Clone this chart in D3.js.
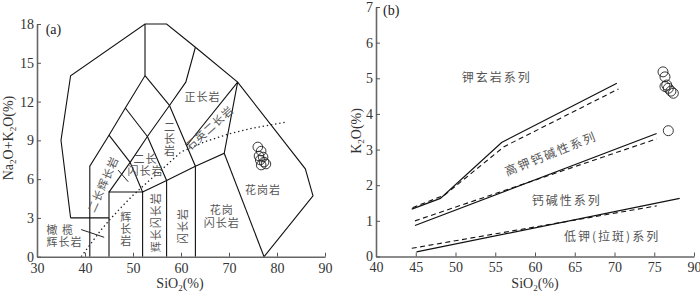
<!DOCTYPE html>
<html>
<head>
<meta charset="utf-8">
<script src="https://cdn.jsdelivr.net/npm/d3@7"></script>
<style>
body { margin: 0; background: #fff; }
.cn { font-family: "Noto Sans CJK SC", sans-serif; fill: #555; font-size: 11px; letter-spacing: 1px; }
.cnb { font-size: 12px; letter-spacing: 2px; }
</style>
</head>
<body>
<svg id="chart" width="700" height="293"></svg>
<script>
// ---- (a) TAS plutonic diagram (Middlemost 1994) ----
const tasLines = [
    [[37, 3], [35, 9], [37, 14], [52.5, 18], [57, 18], [63, 16.2], [71.8, 13.5], [85.9, 6.8], [87.5, 4.7], [77.3, 0]],
    [[37, 3], [45, 3]],
    [[41, 0], [41, 7], [45, 9.4], [48.4, 11.5], [52.5, 14], [52.5, 18]],
    [[45, 0], [45, 5], [52, 5], [52, 0]],
    [[45, 5], [49.4, 7.3], [52, 5]],
    [[49.4, 7.3], [45, 9.4]],
    [[49.4, 7.3], [53, 9.3], [57.6, 11.7], [61, 13.5], [63, 16.2]],
    [[53, 9.3], [48.4, 11.5]],
    [[57.6, 11.7], [52.5, 14]],
    [[52, 5], [57, 5.9], [63, 7], [69, 8], [71.8, 13.5]],
    [[57, 0], [57, 5.9], [53, 9.3]],
    [[63, 0], [63, 7], [57.6, 11.7]],
    [[69, 8], [77.3, 0]],
    [[71.8, 13.5], [61.2, 8.6]]
];
// Irvine & Baragar (1971) alkaline / subalkaline divide
const ibSiO2 = [39.2, 40, 43.2, 45, 48, 50, 53.7, 55, 60, 65, 70, 75, 81.7];
const ibAlk = [0, 0.4, 2, 2.8, 4, 4.75, 6, 6.4, 8.1, 8.9, 9.5, 9.95, 10.4];

const sampleSiO2A = [76.0, 76.7, 76.25, 77.1, 76.5, 77.3, 76.7, 77.7];
const sampleAlk = [8.49, 8.17, 7.79, 7.71, 7.48, 7.32, 7.09, 7.17];

const xTicksA = [30, 40, 50, 60, 70, 80, 90];
const yTicksA = [0, 3, 6, 9, 12, 15, 18];

const labelsA = [
    {t: "正长岩", x: 64.5, y: 12.35},
    {t: "石英二长岩", x: 66.0, y: 9.95, rot: -42},
    {t: "二长岩", x: 57.6, y: 9.1, mode: "stack"},
    {t: "二长\n闪长岩", x: 52.6, y: 7.1},
    {t: "二长辉长岩", x: 43.8, y: 5.6, rot: -66},
    {t: "辉长岩", x: 48.5, y: 2.1, mode: "stack"},
    {t: "辉长闪长岩", x: 54.8, y: 2.67, rot: -90},
    {t: "闪长岩", x: 60.4, y: 2.37, rot: -90},
    {t: "花岗\n闪长岩", x: 68.5, y: 3.1},
    {t: "花岗岩", x: 77.1, y: 5.15},
    {t: "橄 榄\n辉长岩", x: 32.0, y: 1.6, anchor: "start"}
];
const leadersA = [
    [[39.2, 2.1], [44.0, 1.5]],
    [[46.9, 6.7], [49.0, 5.8]]
];

// ---- (b) SiO2 - K2O diagram ----
const upperSolid = [[44.5, 1.33], [48.1, 1.63], [55.8, 3.2], [70.3, 4.86]];
const upperDash = [[44.6, 1.37], [48.6, 1.72], [56.1, 3.08], [70.5, 4.7]];
const middleSolid = [[44.9, 0.87], [75.3, 3.45]];
const middleDash = [[44.9, 1.0], [75.3, 3.3]];
const lowerSolid = [[45.1, 0.13], [78.2, 1.63]];
const lowerDash = [[44.5, 0.23], [75.3, 1.42]];

const sampleSiO2B = [76.1, 76.35, 76.57, 76.35, 76.77, 77.4, 77.1, 76.77];
const sampleK2O = [5.18, 5.04, 4.81, 4.77, 4.72, 4.58, 4.64, 3.53];

const xTicksB = [40, 45, 50, 55, 60, 65, 70, 75, 80];
const xTickLabelsB = ["40", "45", "50", "55", "60", "65", "70", "75", "90"];
const yTicksB = [0, 1, 2, 3, 4, 5, 6, 7];

const labelsB = [
    {t: "钾玄岩系列", x: 55.2, y: 5.0},
    {t: "高钾钙碱性系列", x: 62.0, y: 2.88, rot: -22},
    {t: "钙碱性系列", x: 64.0, y: 1.56},
    {t: "低钾(拉斑)系列", x: 69.7, y: 0.54}
];

const svg = d3.select("#chart");

const xA = d3.scaleLinear().domain([30, 90]).range([37, 325]);
const yA = d3.scaleLinear().domain([0, 18]).range([256.7, 24]);
const xB = d3.scaleLinear().domain([40, 80]).range([376, 694]);
const yB = d3.scaleLinear().domain([0, 7]).range([256.5, 7]);

function drawAxes(x, y, xTicks, xFmt, yTicks) {
    let gx = svg.append("g")
        .attr("transform", "translate(0," + y.range()[0] + ")")
        .call(d3.axisBottom(x).tickValues(xTicks).tickFormat(xFmt)
            .tickSizeInner(-4).tickSizeOuter(0).tickPadding(6));
    let gy = svg.append("g")
        .attr("transform", "translate(" + x.range()[0] + ",0)")
        .call(d3.axisLeft(y).tickValues(yTicks).tickFormat(d3.format("d"))
            .tickSizeInner(-4).tickSizeOuter(0).tickPadding(3));
    [gx, gy].forEach(function (g) {
        g.attr("font-family", "Liberation Serif, serif").attr("font-size", 14);
        g.select(".domain").attr("stroke", "#666").attr("stroke-width", 1.6);
        g.selectAll(".tick line").attr("stroke", "#555").attr("stroke-width", 1);
        g.selectAll(".tick text").attr("fill", "#333");
    });
}

function subLabel(x, y, parts, rotate) {
    let t = svg.append("text")
        .attr("transform", "translate(" + x + "," + y + ")" + (rotate ? " rotate(" + rotate + ")" : ""))
        .attr("text-anchor", "middle")
        .attr("font-family", "Liberation Serif, serif")
        .attr("font-size", 14)
        .attr("fill", "#333");
    parts.forEach(function (p) {
        if (p.sub) {
            t.append("tspan").attr("font-size", 9).attr("dy", 2.5).text(p.sub);
        } else {
            t.append("tspan").attr("dy", p.after ? -2.5 : 0).text(p.s);
        }
    });
}

function cnLabels(labels, x, y, cls) {
    labels.forEach(function (d) {
        let px = x(d.x), py = y(d.y);
        if (d.mode === "stack") {
            // upright characters stacked top to bottom
            svg.append("text").attr("class", cls)
                .attr("x", px).attr("y", py)
                .attr("text-anchor", "middle")
                .style("writing-mode", "vertical-rl")
                .style("letter-spacing", "1px")
                .text(d.t);
            return;
        }
        let lines = d.t.split("\n");
        let t = svg.append("text").attr("class", cls)
            .attr("transform", "translate(" + px + "," + py + ") rotate(" + (d.rot || 0) + ")")
            .attr("text-anchor", d.anchor || "middle");
        lines.forEach(function (ln, i) {
            t.append("tspan").attr("x", 0)
                .attr("y", (i - (lines.length - 1) / 2) * 12.5)
                .attr("dy", "0.35em").text(ln);
        });
    });
}

// ---------- panel (a) ----------
const lineA = d3.line().x(d => xA(d[0])).y(d => yA(d[1]));

svg.append("g").selectAll("path.tas")
    .data(tasLines)
    .enter()
    .append("path")
    .attr("class", "tas")
    .attr("d", lineA)
    .attr("fill", "none")
    .attr("stroke", "#111")
    .attr("stroke-width", 1.1);

svg.append("g").selectAll("path.leader")
    .data(leadersA)
    .enter()
    .append("path")
    .attr("d", lineA)
    .attr("stroke", "#222")
    .attr("stroke-width", 1);

svg.append("path")
    .datum(ibSiO2.map((s, i) => [s, ibAlk[i]]))
    .attr("d", lineA)
    .attr("fill", "none")
    .attr("stroke", "#222")
    .attr("stroke-width", 1.3)
    .attr("stroke-dasharray", "1.4,2.8");

cnLabels(labelsA, xA, yA, "cn");

svg.append("g").selectAll("circle")
    .data(sampleSiO2A.map((s, i) => [s, sampleAlk[i]]))
    .enter()
    .append("circle")
    .attr("cx", d => xA(d[0]))
    .attr("cy", d => yA(d[1]))
    .attr("r", 4.8)
    .attr("fill", "none")
    .attr("stroke", "#222")
    .attr("stroke-width", 0.9);

drawAxes(xA, yA, xTicksA, d3.format("d"), yTicksA);

svg.append("text")
    .attr("x", xA(31.8)).attr("y", yA(17.2))
    .attr("font-family", "Liberation Serif, serif").attr("font-size", 14).attr("fill", "#222")
    .text("(a)");

subLabel(180, 288, [{s: "SiO"}, {sub: "2"}, {s: "(%)", after: true}]);
subLabel(13, 138, [{s: "Na"}, {sub: "2"}, {s: "O+K", after: true}, {sub: "2"}, {s: "O(%)", after: true}], -90);

// ---------- panel (b) ----------
const lineB = d3.line().x(d => xB(d[0])).y(d => yB(d[1]));

svg.append("g").selectAll("path.solid")
    .data([upperSolid, middleSolid, lowerSolid])
    .enter()
    .append("path")
    .attr("d", lineB)
    .attr("fill", "none")
    .attr("stroke", "#111")
    .attr("stroke-width", 1.2);

svg.append("g").selectAll("path.dash")
    .data([upperDash, middleDash, lowerDash])
    .enter()
    .append("path")
    .attr("d", lineB)
    .attr("fill", "none")
    .attr("stroke", "#111")
    .attr("stroke-width", 1.1)
    .attr("stroke-dasharray", "5,3.5");

cnLabels(labelsB, xB, yB, "cn cnb");

svg.append("g").selectAll("circle")
    .data(sampleSiO2B.map((s, i) => [s, sampleK2O[i]]))
    .enter()
    .append("circle")
    .attr("cx", d => xB(d[0]))
    .attr("cy", d => yB(d[1]))
    .attr("r", 5)
    .attr("fill", "none")
    .attr("stroke", "#222")
    .attr("stroke-width", 0.9);

drawAxes(xB, yB, xTicksB, (d, i) => xTickLabelsB[i], yTicksB);

svg.append("text")
    .attr("x", 383).attr("y", 15)
    .attr("font-family", "Liberation Serif, serif").attr("font-size", 14).attr("fill", "#222")
    .text("(b)");

subLabel(535, 288, [{s: "SiO"}, {sub: "2"}, {s: "(%)", after: true}]);
subLabel(361, 131, [{s: "K"}, {sub: "2"}, {s: "O(%)", after: true}], -90);
</script>
</body>
</html>
